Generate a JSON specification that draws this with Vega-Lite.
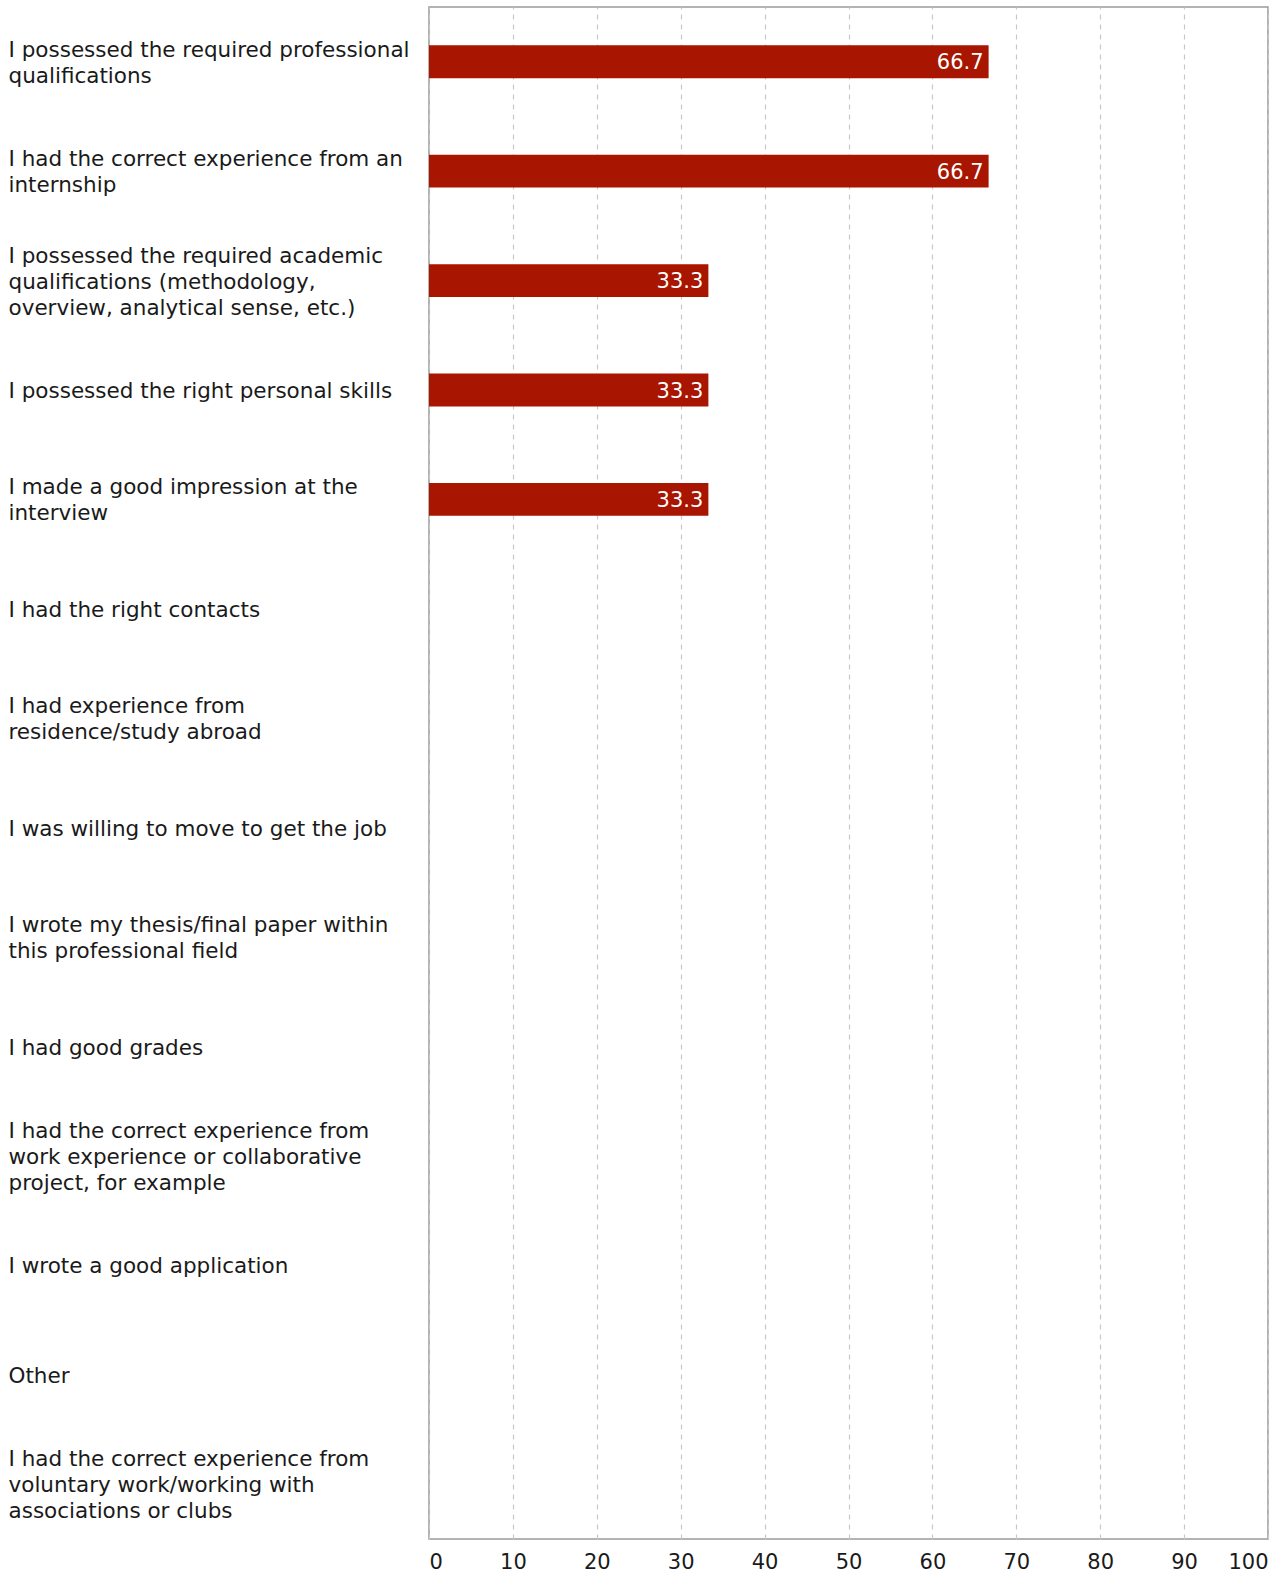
{
  "$schema": "https://vega.github.io/schema/vega-lite/v6.json",
  "autosize": {"type": "none"},
  "width": 839,
  "height": 1532,
  "padding": {"left": 429, "top": 7, "right": 14, "bottom": 34},
  "background": "white",
  "config": {
    "font": "DejaVu Sans",
    "view": {"stroke": "#9a9a9a", "strokeWidth": 1.5}
  },
  "data": {
    "values": [
      {"label": "I possessed the required professional|qualifications", "value": 66.7},
      {"label": "I had the correct experience from an|internship", "value": 66.7},
      {"label": "I possessed the required academic|qualifications (methodology,|overview, analytical sense, etc.)", "value": 33.3},
      {"label": "I possessed the right personal skills", "value": 33.3},
      {"label": "I made a good impression at the|interview", "value": 33.3},
      {"label": "I had the right contacts", "value": 0},
      {"label": "I had experience from|residence/study abroad", "value": 0},
      {"label": "I was willing to move to get the job", "value": 0},
      {"label": "I wrote my thesis/final paper within|this professional field", "value": 0},
      {"label": "I had good grades", "value": 0},
      {"label": "I had the correct experience from|work experience or collaborative|project, for example", "value": 0},
      {"label": "I wrote a good application", "value": 0},
      {"label": "Other", "value": 0},
      {"label": "I had the correct experience from|voluntary work/working with|associations or clubs", "value": 0}
    ]
  },
  "encoding": {
    "y": {
      "field": "label",
      "type": "nominal",
      "sort": null,
      "scale": {"paddingInner": 0.7, "paddingOuter": 0.35},
      "axis": {
        "title": null,
        "domain": false,
        "ticks": false,
        "grid": false,
        "labelAlign": "left",
        "labelBaseline": "middle",
        "labelPadding": 421,
        "labelLimit": 500,
        "labelFontSize": 21.5,
        "labelColor": "#1a1a1a",
        "labelLineHeight": 26,
        "labelOffset": {
          "condition": [
            {"test": "lastindexof(datum.value, '|') > indexof(datum.value, '|')", "value": -24},
            {"test": "indexof(datum.value, '|') >= 0", "value": -11}
          ],
          "value": 2
        },
        "labelExpr": "split(datum.label, '|')"
      }
    },
    "x": {
      "field": "value",
      "type": "quantitative",
      "scale": {"domain": [0, 100], "nice": false},
      "axis": {
        "title": null,
        "values": [0, 10, 20, 30, 40, 50, 60, 70, 80, 90, 100],
        "domain": false,
        "ticks": false,
        "grid": true,
        "gridColor": "#c8c8c8",
        "gridDash": [5, 5],
        "gridWidth": 1.2,
        "labelFlush": true,
        "labelFontSize": 21,
        "labelColor": "#1a1a1a",
        "labelPadding": 12
      }
    }
  },
  "layer": [
    {"mark": {"type": "bar", "color": "#a81500"}},
    {
      "transform": [{"filter": "datum.value > 0"}],
      "mark": {"type": "text", "align": "right", "baseline": "middle", "dx": -5, "dy": 1.5, "fontSize": 21, "color": "white"},
      "encoding": {"text": {"field": "value", "type": "quantitative", "format": ".1f"}}
    }
  ]
}
